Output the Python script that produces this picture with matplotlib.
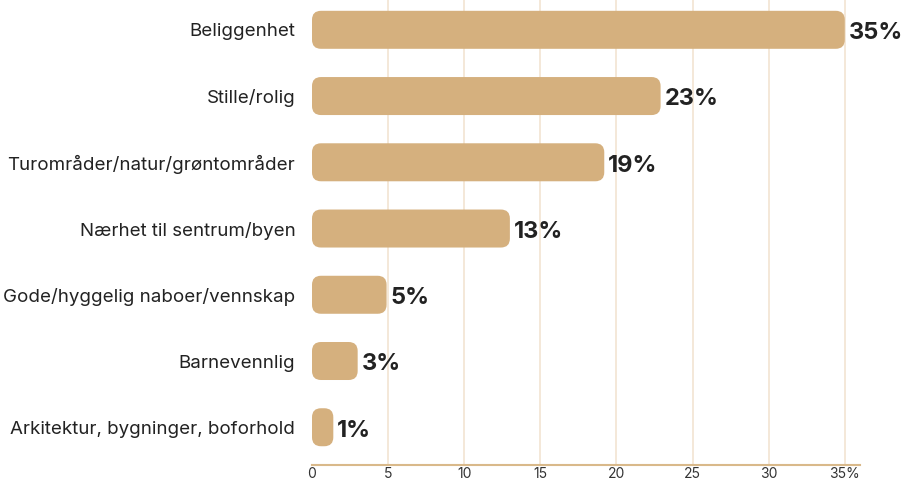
import matplotlib
matplotlib.use("Agg")
import matplotlib.pyplot as plt
from matplotlib.patches import FancyBboxPatch

categories = ["Beliggenhet", "Stille/rolig", "Turområder/natur/grøntområder",
              "Nærhet til sentrum/byen", "Gode/hyggelig naboer/vennskap",
              "Barnevennlig", "Arkitektur, bygninger, boforhold"]
values = [35, 22.9, 19.2, 13.0, 4.9, 3.0, 1.4]
value_labels = ["35%", "23%", "19%", "13%", "5%", "3%", "1%"]
ticks = [0, 5, 10, 15, 20, 25, 30, 35]
tick_labels = ["0", "5", "10", "15", "20", "25", "30", "35%"]

plt.rcParams['font.family'] = ['Inter', 'DejaVu Sans']

W, H = 902, 480
fig = plt.figure(figsize=(W/100, H/100), dpi=100)
left, right, top, bottom = 312, 860, 0, 465
ax = fig.add_axes([left/W, 1 - bottom/H, (right-left)/W, (bottom-top)/H])

bar_color = "#D5B07E"
ax.set_xlim(0, 36)
ax.set_ylim(6.57, -0.45)

px_x = (right-left)/36.0
px_y = (bottom-top)/(6.57+0.45)
bar_h = 38/px_y
bars = ax.barh(range(len(categories)), values, height=bar_h, color="none")
r = 9/px_x
for b in bars:
    x0, y0 = b.get_x(), b.get_y()
    w, h = b.get_width(), b.get_height()
    rr = min(r, w/2)
    p = FancyBboxPatch((x0, y0), w, h,
                       boxstyle=f"round,pad=0,rounding_size={rr}",
                       mutation_aspect=px_x/px_y,
                       facecolor=bar_color, edgecolor="none", zorder=3)
    ax.add_patch(p)

for i, (v, lab) in enumerate(zip(values, value_labels)):
    ax.text(v + 4/px_x, i + 0.05, lab, va="center", ha="left",
            fontsize=17, fontweight="bold", color="#222222", zorder=4)

ax.set_yticks(range(len(categories)))
ax.set_yticklabels(categories, fontsize=13.5, color="#222222")
ax.tick_params(axis="y", length=0, pad=12)
ax.set_xticks(ticks)
ax.set_xticklabels(tick_labels, fontsize=10, color="#333333")
ax.tick_params(axis="x", length=0, pad=1.5)

for t in ticks[1:]:
    ax.axvline(t, color="#F2E4D2", lw=1.2, zorder=1)

for s in ["top", "right", "left"]:
    ax.spines[s].set_visible(False)
ax.spines["bottom"].set_color("#D9B98A")
ax.spines["bottom"].set_linewidth(1.5)

fig.savefig("out.png", dpi=100)
